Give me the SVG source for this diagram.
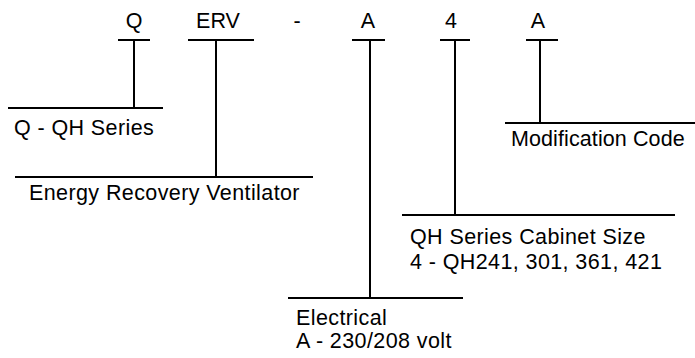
<svg xmlns="http://www.w3.org/2000/svg" width="695" height="358" viewBox="0 0 695 358">
<style>
text{font-family:"Liberation Sans",Arial,sans-serif;font-size:21.5px;fill:#000;letter-spacing:0.4px}
.c{text-anchor:middle;letter-spacing:0}
line{stroke:#000;stroke-width:2;fill:none}
</style>
<rect width="695" height="358" fill="#fff"/>
<g id="code">
<text class="c" x="134" y="28">Q</text>
<text class="c" x="218" y="28">ERV</text>
<text class="c" x="297" y="28">-</text>
<text class="c" x="368" y="28">A</text>
<text class="c" x="451" y="28">4</text>
<text class="c" x="538" y="28">A</text>
</g>
<g id="connectors">
<line x1="118" y1="40" x2="150" y2="40"/>
<line x1="134" y1="40" x2="134" y2="108"/>
<line x1="188" y1="40" x2="254" y2="40"/>
<line x1="216" y1="40" x2="216" y2="177"/>
<line x1="352" y1="40" x2="385" y2="40"/>
<line x1="370" y1="40" x2="370" y2="298"/>
<line x1="440" y1="40" x2="470" y2="40"/>
<line x1="455" y1="40" x2="455" y2="215"/>
<line x1="526" y1="40" x2="558" y2="40"/>
<line x1="540" y1="40" x2="540" y2="123"/>
</g>
<g id="series">
<line x1="8" y1="108" x2="163" y2="108"/>
<text x="14" y="135">Q - QH Series</text>
</g>
<g id="erv">
<line x1="15" y1="177" x2="313" y2="177"/>
<text x="29" y="200">Energy Recovery Ventilator</text>
</g>
<g id="modification">
<line x1="505" y1="123" x2="695" y2="123"/>
<text x="511" y="146" style="letter-spacing:0.1px">Modification Code</text>
</g>
<g id="cabinet">
<line x1="402" y1="215" x2="675" y2="215"/>
<text x="410" y="244">QH Series Cabinet Size</text>
<text x="410" y="269">4 - QH241, 301, 361, 421</text>
</g>
<g id="electrical">
<line x1="288" y1="298" x2="463" y2="298"/>
<text x="296" y="325">Electrical</text>
<text x="296" y="348">A - 230/208 volt</text>
</g>
</svg>
